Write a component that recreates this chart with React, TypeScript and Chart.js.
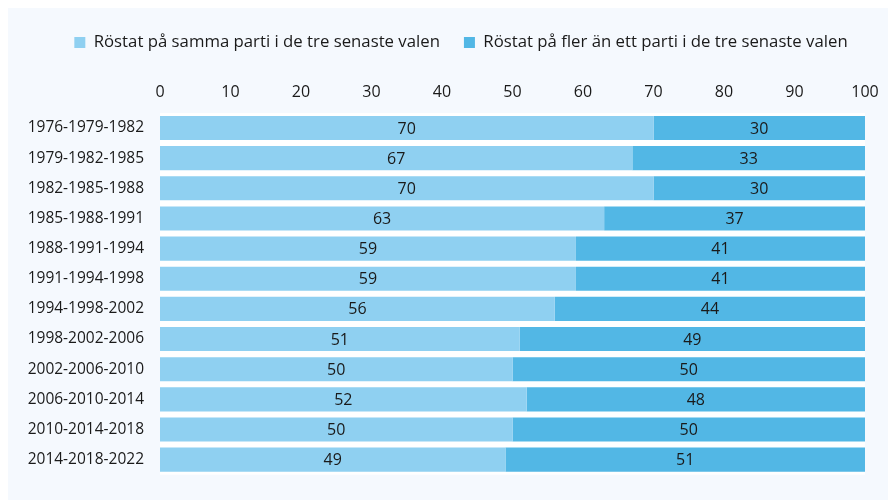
import React, { useEffect, useRef } from "react";
import { Chart, registerables } from "chart.js";

Chart.register(...registerables);

const categories = [
  "1976-1979-1982",
  "1979-1982-1985",
  "1982-1985-1988",
  "1985-1988-1991",
  "1988-1991-1994",
  "1991-1994-1998",
  "1994-1998-2002",
  "1998-2002-2006",
  "2002-2006-2010",
  "2006-2010-2014",
  "2010-2014-2018",
  "2014-2018-2022",
];
const samePartyValues = [70, 67, 70, 63, 59, 59, 56, 51, 50, 52, 50, 49];
const multiPartyValues = [30, 33, 30, 37, 41, 41, 44, 49, 50, 48, 50, 51];
const seriesNames = [
  "Röstat på samma parti i de tre senaste valen",
  "Röstat på fler än ett parti i de tre senaste valen",
];
const xTicks = [0, 10, 20, 30, 40, 50, 60, 70, 80, 90, 100];

const FONT = "'Open Sans', sans-serif";
const TEXT = "#1a1a1a";

const whiteArea = {
  id: "whiteArea",
  beforeDraw(chart: any) {
    const { ctx, chartArea } = chart;
    ctx.save();
    ctx.fillStyle = "#ffffff";
    ctx.fillRect(chartArea.left, chartArea.top, chartArea.right - chartArea.left, chartArea.bottom - chartArea.top);
    ctx.restore();
  },
};

const legendShift = {
  id: "legendShift",
  afterLayout(chart: any) {
    if (chart.legend) {
      chart.legend.left += 15;
      chart.legend.right += 15;
    }
  },
};

const valueLabels = {
  id: "valueLabels",
  afterDatasetsDraw(chart: any) {
    const { ctx } = chart;
    ctx.save();
    ctx.font = `16px ${FONT}`;
    ctx.fillStyle = TEXT;
    ctx.textAlign = "center";
    ctx.textBaseline = "middle";
    chart.data.datasets.forEach((ds: any, di: number) => {
      const meta = chart.getDatasetMeta(di);
      meta.data.forEach((bar: any, i: number) => {
        const x = (bar.x + bar.base) / 2;
        ctx.fillText(String(ds.data[i]), x, bar.y + 1);
      });
    });
    ctx.restore();
  },
};

export default function App() {
  const ref = useRef<HTMLCanvasElement>(null);
  useEffect(() => {
    if (!ref.current) return;
    const chart = new Chart(ref.current, {
      type: "bar",
      data: {
        labels: categories,
        datasets: [
          {
            label: seriesNames[0],
            data: samePartyValues,
            backgroundColor: "#8fd0f1",
            categoryPercentage: 0.8,
            barPercentage: 1,
          },
          {
            label: seriesNames[1],
            data: multiPartyValues,
            backgroundColor: "#52b7e5",
            categoryPercentage: 0.8,
            barPercentage: 1,
          },
        ],
      },
      options: {
        indexAxis: "y",
        animation: false,
        responsive: false,
        maintainAspectRatio: false,
        layout: { padding: { top: 2, right: 31, bottom: 12, left: 0 } },
        plugins: {
          legend: {
            position: "top",
            labels: {
              boxWidth: 11,
              boxHeight: 11,
              padding: 24,
              color: TEXT,
              font: { family: FONT, size: 16.75 },
            },
          },
          tooltip: { enabled: false },
        },
        scales: {
          x: {
            position: "top",
            stacked: true,
            min: 0,
            max: 100,
            afterBuildTicks(scale: any) {
              scale.ticks = xTicks.map((v) => ({ value: v }));
            },
            afterFit(scale: any) {
              scale.height += 11;
            },
            grid: { display: false, drawTicks: false },
            border: { display: false },
            ticks: {
              color: TEXT,
              font: { family: FONT, size: 16 },
              padding: 11,
              maxRotation: 0,
            },
          },
          y: {
            stacked: true,
            grid: { display: false, drawTicks: false },
            border: { display: false },
            afterFit(scale: any) {
              scale.width = 133;
            },
            ticks: {
              color: TEXT,
              font: { family: FONT, size: 15.5 },
              padding: 16,
            },
          },
        },
      },
      plugins: [whiteArea, valueLabels, legendShift],
    });
    return () => chart.destroy();
  }, []);
  return (
    <div style={{ background: "#f5f9fe", width: 888, height: 492, position: "relative" }}>
      <canvas ref={ref} width={869} height={492} style={{ position: "absolute", left: 19, top: 0, width: 869, height: 492 }} />
    </div>
  );
}
